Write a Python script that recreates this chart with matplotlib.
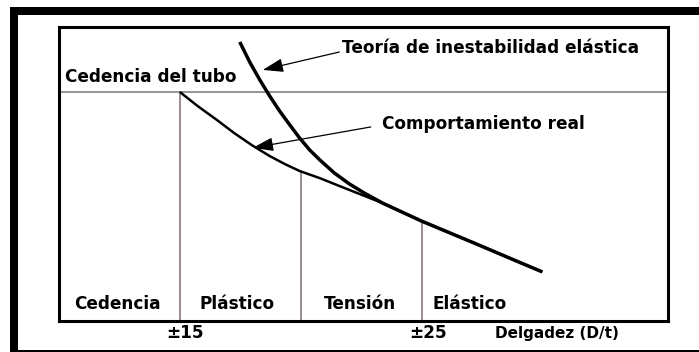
import matplotlib.pyplot as plt
from matplotlib.patches import Rectangle

plt.rcParams['font.family'] = ['DejaVu Sans']

# D/t vs strength (scaled 0-100)
real_x = [15.0, 15.74, 16.53, 17.27, 18.02, 18.72, 19.34, 19.96, 20.79, 21.61, 22.44, 23.39,
          25.0, 27.27, 28.93, 30.0]
real_y = [77.9, 73.1, 68.4, 63.8, 59.6, 56.1, 53.4, 51.0, 48.6, 45.9, 43.2, 40.1,
          34.0, 26.2, 20.4, 16.7]
theory_x = [17.48, 17.89, 18.31, 18.72, 19.13, 19.55, 19.96, 20.37, 20.79, 21.40, 22.02, 22.64,
            23.39, 25.0, 27.27, 28.93, 30.0]
theory_y = [94.9, 88.1, 82.0, 76.5, 71.4, 66.7, 62.2, 58.2, 54.8, 50.3, 46.6, 43.5,
            40.1, 34.0, 26.2, 20.4, 16.7]
yield_level = 77.9
limits = [15, 20, 25]
limit_tops = [77.9, 51.0, 34.0]
zones = ['Cedencia', 'Plástico', 'Tensión', 'Elástico']
zone_x = [12.4, 17.36, 22.44, 25.45]
tick_labels = ['±15', '±25']
tick_x = [15.2, 25.29]

W, H = 699, 352
fig = plt.figure(figsize=(W / 100, H / 100), dpi=100)

# black frame around the picture
black = dict(color='black', transform=fig.transFigure, figure=fig, lw=0)
fig.patches.append(Rectangle((10 / W, 1 - 15 / H), 1, 8 / H, **black))
fig.patches.append(Rectangle((10 / W, 1 / H), 7.5 / W, 343 / H, **black))
fig.patches.append(Rectangle((10 / W, 0.5 / H), 1, 2 / H, **black))

ax = fig.add_axes([59 / W, 31 / H, 609 / W, 294 / H])
ax.set_xlim(10, 35.2)
ax.set_ylim(0, 100)
ax.set_xticks([])
ax.set_yticks([])
for s in ax.spines.values():
    s.set_linewidth(2.2)

ax.axhline(yield_level, color='#777777', lw=1.1)
for x, top in zip(limits, limit_tops):
    ax.plot([x, x], [0, top], color='#7a6e6e', lw=1.1)

ax.plot(theory_x, theory_y, color='black', lw=2.5, solid_capstyle='butt', solid_joinstyle='round')
ax.plot(real_x, real_y, color='black', lw=1.8, solid_capstyle='butt', solid_joinstyle='round')

fs = 12.2
ax.text(10.25, 81.3, 'Cedencia del tubo', fontsize=fs, fontweight='bold', va='baseline')
for name, x in zip(zones, zone_x):
    ha = 'left' if name == 'Elástico' else 'center'
    ax.text(x, 4.1, name, fontsize=fs, fontweight='bold', ha=ha, va='baseline')

arrow = dict(arrowstyle='-|>,head_length=0.9,head_width=0.3', color='black', lw=0.9,
             mutation_scale=14, shrinkA=0, shrinkB=0)
ax.annotate('', xy=(18.43, 85.4), xytext=(21.6, 91.5), arrowprops=arrow)
ax.text(21.7, 93.0, 'Teoría de inestabilidad elástica', fontsize=fs, fontweight='bold', va='center')
ax.annotate('', xy=(18.02, 58.9), xytext=(22.9, 66.0), arrowprops=arrow)
ax.text(23.35, 67.0, 'Comportamiento real', fontsize=fs, fontweight='bold', va='center')

for lab, x in zip(tick_labels, tick_x):
    ax.text(x, -4.1, lab, fontsize=fs, fontweight='bold', ha='center', va='center')
ax.text(30.62, -4.1, 'Delgadez (D/t)', fontsize=11, fontweight='bold', ha='center', va='center')

fig.savefig('out.png', dpi=100)
